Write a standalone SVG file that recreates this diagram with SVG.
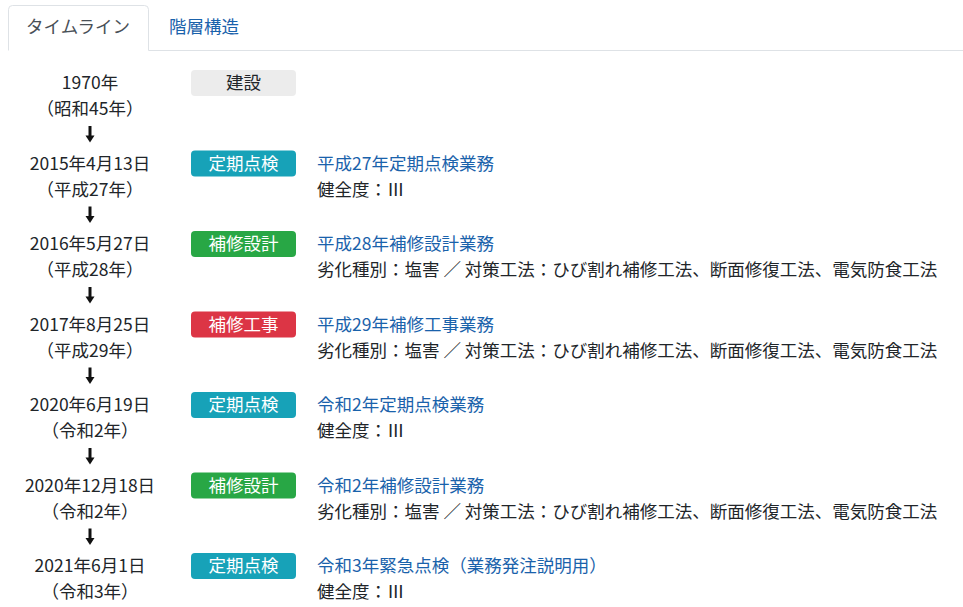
<svg xmlns="http://www.w3.org/2000/svg" width="963" height="607" viewBox="0 0 963 607">
<style>
text{font-family:"Meiryo","Noto Sans CJK JP","Noto Sans",sans-serif;font-size:17.5px}
.d{fill:#212529;text-anchor:middle}
.t{fill:#212529}
.l{fill:#1a62ab}
.bt{fill:#fff;text-anchor:middle}
.tab{fill:none;stroke:#dee2e6;stroke-width:1}
.arr{stroke:#111;stroke-width:3;fill:none}
.ah{fill:#111}
</style>
<rect width="963" height="607" fill="#fff"/>
<g id="tabs">
<path class="tab" d="M8.5,50.5 V9.5 A4,4 0 0 1 12.5,5.5 H144.5 A4,4 0 0 1 148.5,9.5 V50.5 H963"/>
<text x="78" y="33" text-anchor="middle" fill="#495057">タイムライン</text>
<text x="169" y="33" class="l">階層構造</text>
</g>
<g id="connectors">
<g transform="translate(0,0)"><line class="arr" x1="90" y1="126" x2="90" y2="137"/><path class="ah" d="M85.5,135.5 H94.5 L90,142.5 Z"/></g>
<g transform="translate(0,80.5)"><line class="arr" x1="90" y1="126" x2="90" y2="137"/><path class="ah" d="M85.5,135.5 H94.5 L90,142.5 Z"/></g>
<g transform="translate(0,161)"><line class="arr" x1="90" y1="126" x2="90" y2="137"/><path class="ah" d="M85.5,135.5 H94.5 L90,142.5 Z"/></g>
<g transform="translate(0,241.5)"><line class="arr" x1="90" y1="126" x2="90" y2="137"/><path class="ah" d="M85.5,135.5 H94.5 L90,142.5 Z"/></g>
<g transform="translate(0,322)"><line class="arr" x1="90" y1="126" x2="90" y2="137"/><path class="ah" d="M85.5,135.5 H94.5 L90,142.5 Z"/></g>
<g transform="translate(0,402.5)"><line class="arr" x1="90" y1="126" x2="90" y2="137"/><path class="ah" d="M85.5,135.5 H94.5 L90,142.5 Z"/></g>
</g>
<g id="n1">
<text class="d" x="90" y="89">1970年</text>
<text class="d" x="90" y="115">（昭和45年）</text>
<rect x="191" y="70" width="105" height="26" rx="4" fill="#ececec"/>
<text x="243.5" y="89" text-anchor="middle" fill="#212529">建設</text>
</g>
<g id="n2">
<text class="d" x="90" y="169.5">2015年4月13日</text>
<text class="d" x="90" y="195.5">（平成27年）</text>
<rect x="191" y="150.5" width="105" height="26" rx="4" fill="#17a2b8"/>
<text class="bt" x="243.5" y="169.5">定期点検</text>
<text class="l" x="317" y="169.5">平成27年定期点検業務</text>
<text class="t" x="317" y="195.5">健全度：Ⅲ</text>
</g>
<g id="n3">
<text class="d" x="90" y="250">2016年5月27日</text>
<text class="d" x="90" y="276">（平成28年）</text>
<rect x="191" y="231" width="105" height="26" rx="4" fill="#28a745"/>
<text class="bt" x="243.5" y="250">補修設計</text>
<text class="l" x="317" y="250">平成28年補修設計業務</text>
<text class="t" x="317" y="276">劣化種別：塩害 ／ 対策工法：ひび割れ補修工法、断面修復工法、電気防食工法</text>
</g>
<g id="n4">
<text class="d" x="90" y="330.5">2017年8月25日</text>
<text class="d" x="90" y="356.5">（平成29年）</text>
<rect x="191" y="311.5" width="105" height="26" rx="4" fill="#dc3545"/>
<text class="bt" x="243.5" y="330.5">補修工事</text>
<text class="l" x="317" y="330.5">平成29年補修工事業務</text>
<text class="t" x="317" y="356.5">劣化種別：塩害 ／ 対策工法：ひび割れ補修工法、断面修復工法、電気防食工法</text>
</g>
<g id="n5">
<text class="d" x="90" y="411">2020年6月19日</text>
<text class="d" x="90" y="437">（令和2年）</text>
<rect x="191" y="392" width="105" height="26" rx="4" fill="#17a2b8"/>
<text class="bt" x="243.5" y="411">定期点検</text>
<text class="l" x="317" y="411">令和2年定期点検業務</text>
<text class="t" x="317" y="437">健全度：Ⅲ</text>
</g>
<g id="n6">
<text class="d" x="90" y="491.5">2020年12月18日</text>
<text class="d" x="90" y="517.5">（令和2年）</text>
<rect x="191" y="472.5" width="105" height="26" rx="4" fill="#28a745"/>
<text class="bt" x="243.5" y="491.5">補修設計</text>
<text class="l" x="317" y="491.5">令和2年補修設計業務</text>
<text class="t" x="317" y="517.5">劣化種別：塩害 ／ 対策工法：ひび割れ補修工法、断面修復工法、電気防食工法</text>
</g>
<g id="n7">
<text class="d" x="90" y="572">2021年6月1日</text>
<text class="d" x="90" y="598">（令和3年）</text>
<rect x="191" y="553" width="105" height="26" rx="4" fill="#17a2b8"/>
<text class="bt" x="243.5" y="572">定期点検</text>
<text class="l" x="317" y="572">令和3年緊急点検（業務発注説明用）</text>
<text class="t" x="317" y="598">健全度：Ⅲ</text>
</g>
</svg>
